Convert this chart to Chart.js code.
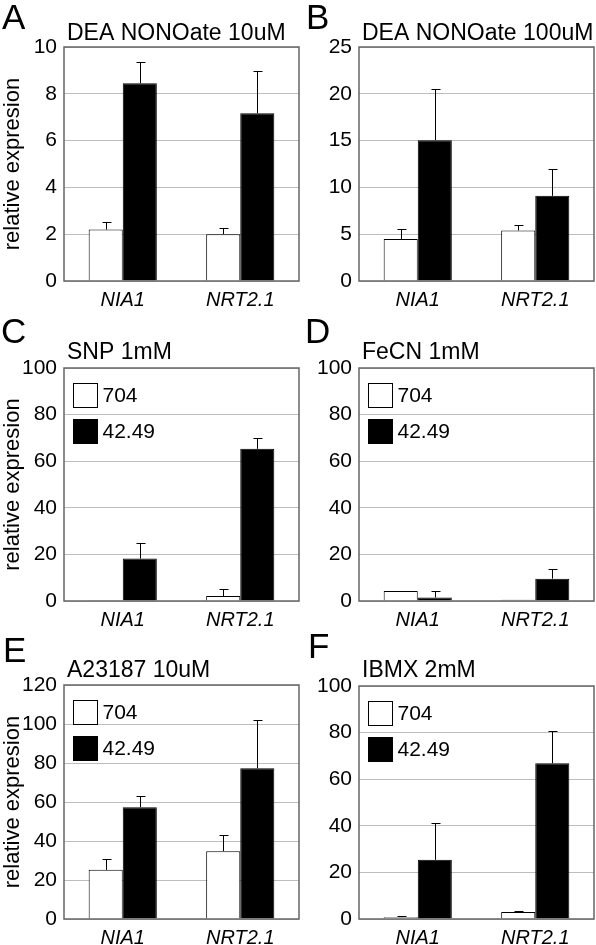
<!DOCTYPE html>
<html lang="en">
<head>
  <meta charset="UTF-8" />
  <title>Relative expression</title>
  <script src="https://cdn.jsdelivr.net/npm/chart.js"></script>
  <style>
    html, body {
      margin: 0;
      padding: 0;
      background: #fff;
      width: 596px;
      height: 945px;
      overflow: hidden;
    }
    canvas {
      position: absolute;
    }
  </style>
</head>
<body>

  <canvas id="chartA" width="300" height="311" style="left:0;top:0"></canvas>
  <canvas id="chartB" width="300" height="311" style="left:296px;top:0"></canvas>
  <canvas id="chartC" width="300" height="321" style="left:0;top:310px"></canvas>
  <canvas id="chartD" width="300" height="321" style="left:296px;top:310px"></canvas>
  <canvas id="chartE" width="300" height="329" style="left:0;top:620px"></canvas>
  <canvas id="chartF" width="300" height="329" style="left:296px;top:620px"></canvas>

  <script>
    // categories and series names
    const genes = ['NIA1', 'NRT2.1'];
    const lineNames = ['704', '42.49'];

    // panel labels and axis ranges
    const panelLetters = ['A', 'B', 'C', 'D', 'E', 'F'];
    const panelTitles = ['DEA NONOate 10uM', 'DEA NONOate 100uM', 'SNP 1mM', 'FeCN 1mM', 'A23187 10uM', 'IBMX 2mM'];
    const yMax = [10, 25, 100, 100, 120, 100];
    const yStep = [2, 5, 20, 20, 20, 20];

    // values (mean, upper error)
    const dea10_704 = [2.2, 2.0];
    const dea10_704Err = [0.33, 0.28];
    const dea10_4249 = [8.45, 7.17];
    const dea10_4249Err = [0.9, 1.8];

    const dea100_704 = [4.5, 5.4];
    const dea100_704Err = [1.07, 0.55];
    const dea100_4249 = [15.05, 9.1];
    const dea100_4249Err = [5.5, 2.9];

    const snp_704 = [0.3, 2.1];
    const snp_704Err = [0, 3.2];
    const snp_4249 = [18.2, 65.3];
    const snp_4249Err = [6.5, 4.6];

    const fecn_704 = [4.3, 0.5];
    const fecn_704Err = [0, 0];
    const fecn_4249 = [1.5, 9.6];
    const fecn_4249Err = [2.8, 4.3];

    const a23_704 = [25.2, 34.8];
    const a23_704Err = [5.8, 8.5];
    const a23_4249 = [57.3, 77.3];
    const a23_4249Err = [6, 25];

    const ibmx_704 = [0.8, 3.0];
    const ibmx_704Err = [0.3, 0.4];
    const ibmx_4249 = [25.4, 66.8];
    const ibmx_4249Err = [16, 14];

    const FONT = '"Liberation Sans", Arial, Helvetica, sans-serif';

    // error bars (upper only) drawn from the y scale
    const errorBars = {
      id: 'errorBars',
      afterDatasetsDraw(chart) {
        const ctx = chart.ctx;
        const y = chart.scales.y;
        ctx.save();
        ctx.strokeStyle = '#000';
        ctx.lineWidth = 1;
        chart.data.datasets.forEach((ds, i) => {
          const meta = chart.getDatasetMeta(i);
          meta.data.forEach((bar, j) => {
            const err = ds.errors[j];
            if (!err) return;
            const x = Math.round(bar.x) + 0.5;
            const top = Math.round(y.getPixelForValue(ds.data[j] + err)) + 0.5;
            ctx.beginPath();
            ctx.moveTo(x, bar.y);
            ctx.lineTo(x, top);
            ctx.moveTo(x - 4, top);
            ctx.lineTo(x + 5, top);
            ctx.stroke();
          });
        });
        ctx.restore();
      }
    };

    // plot frame, panel letter, treatment title and the inset legend
    const panelDecor = {
      id: 'panelDecor',
      afterDraw(chart, args, opts) {
        const ctx = chart.ctx;
        const a = chart.chartArea;
        ctx.save();
        ctx.strokeStyle = '#666';
        ctx.lineWidth = 1.5;
        ctx.strokeRect(a.left, a.top, a.right - a.left, a.bottom - a.top);

        ctx.fillStyle = '#000';
        ctx.textBaseline = 'alphabetic';
        ctx.textAlign = 'left';
        ctx.font = '35px ' + FONT;
        ctx.fillText(opts.letter, opts.letterX, opts.letterY);
        ctx.font = '23px ' + FONT;
        ctx.fillText(opts.title, a.left + 3, a.top - opts.titleGap);

        if (opts.legend) {
          ctx.font = '21px ' + FONT;
          ctx.textBaseline = 'middle';
          chart.data.datasets.forEach((ds, i) => {
            const bx = a.left + 9.5;
            const by = a.top + 15.5 + i * 36;
            ctx.fillStyle = ds.backgroundColor;
            ctx.fillRect(bx, by, 24, 24);
            ctx.strokeStyle = '#000';
            ctx.lineWidth = 1;
            ctx.strokeRect(bx, by, 24, 24);
            ctx.fillStyle = '#000';
            ctx.fillText(ds.label, bx + 29, by + 13);
          });
        }
        ctx.restore();
      }
    };

    function makePanel(id, idx, s704, e704, s4249, e4249, geo) {
      const ctx = document.getElementById(id).getContext('2d');
      const isLeft = idx % 2 === 0;
      return new Chart(ctx, {
        type: 'bar',
        data: {
          labels: genes,
          datasets: [
            {
              label: lineNames[0],
              data: s704,
              errors: e704,
              backgroundColor: '#fff',
              borderColor: '#000',
              borderWidth: 1
            },
            {
              label: lineNames[1],
              data: s4249,
              errors: e4249,
              backgroundColor: '#000',
              borderColor: '#000',
              borderWidth: 1
            }
          ]
        },
        options: {
          responsive: false,
          animation: false,
          categoryPercentage: 0.58,
          barPercentage: 1.0,
          layout: {
            padding: { top: geo.top, right: 300 - geo.right, left: 0, bottom: 0 }
          },
          plugins: {
            tooltip: { enabled: false },
            legend: { display: false },
            panelDecor: {
              letter: panelLetters[idx],
              title: panelTitles[idx],
              legend: geo.legend,
              letterX: geo.letterX,
              letterY: geo.letterY,
              titleGap: geo.titleGap
            }
          },
          scales: {
            x: {
              grid: { display: false, drawTicks: false },
              border: { display: false },
              ticks: {
                color: '#000',
                padding: 7,
                font: { family: FONT, size: 20, style: 'italic' }
              },
              afterFit: s => { s.height = 30; }
            },
            y: {
              min: 0,
              max: yMax[idx],
              grid: { color: '#bdbdbd', drawTicks: false },
              border: { display: false },
              ticks: {
                stepSize: yStep[idx],
                color: '#000',
                padding: 7,
                font: { family: FONT, size: 21 }
              },
              title: {
                display: isLeft,
                text: 'relative expresion',
                color: '#000',
                padding: { top: 0, bottom: 0 },
                font: { family: FONT, size: 22 }
              },
              afterFit: s => { s.width = geo.left; }
            }
          }
        },
        plugins: [errorBars, panelDecor]
      });
    }

    makePanel('chartA', 0, dea10_704, dea10_704Err, dea10_4249, dea10_4249Err,
      { top: 47, right: 299, left: 64, legend: false, letterX: 2, letterY: 29, titleGap: 7 });
    makePanel('chartB', 1, dea100_704, dea100_704Err, dea100_4249, dea100_4249Err,
      { top: 47, right: 298, left: 63, legend: false, letterX: 10, letterY: 29, titleGap: 7 });
    makePanel('chartC', 2, snp_704, snp_704Err, snp_4249, snp_4249Err,
      { top: 58, right: 299, left: 64, legend: true, letterX: 1, letterY: 33, titleGap: 9 });
    makePanel('chartD', 3, fecn_704, fecn_704Err, fecn_4249, fecn_4249Err,
      { top: 58, right: 298, left: 63, legend: true, letterX: 9, letterY: 33, titleGap: 9 });
    makePanel('chartE', 4, a23_704, a23_704Err, a23_4249, a23_4249Err,
      { top: 65, right: 299, left: 64, legend: true, letterX: 3, letterY: 42, titleGap: 8 });
    makePanel('chartF', 5, ibmx_704, ibmx_704Err, ibmx_4249, ibmx_4249Err,
      { top: 66, right: 298, left: 63, legend: true, letterX: 12, letterY: 38, titleGap: 9 });
  </script>

</body>
</html>
